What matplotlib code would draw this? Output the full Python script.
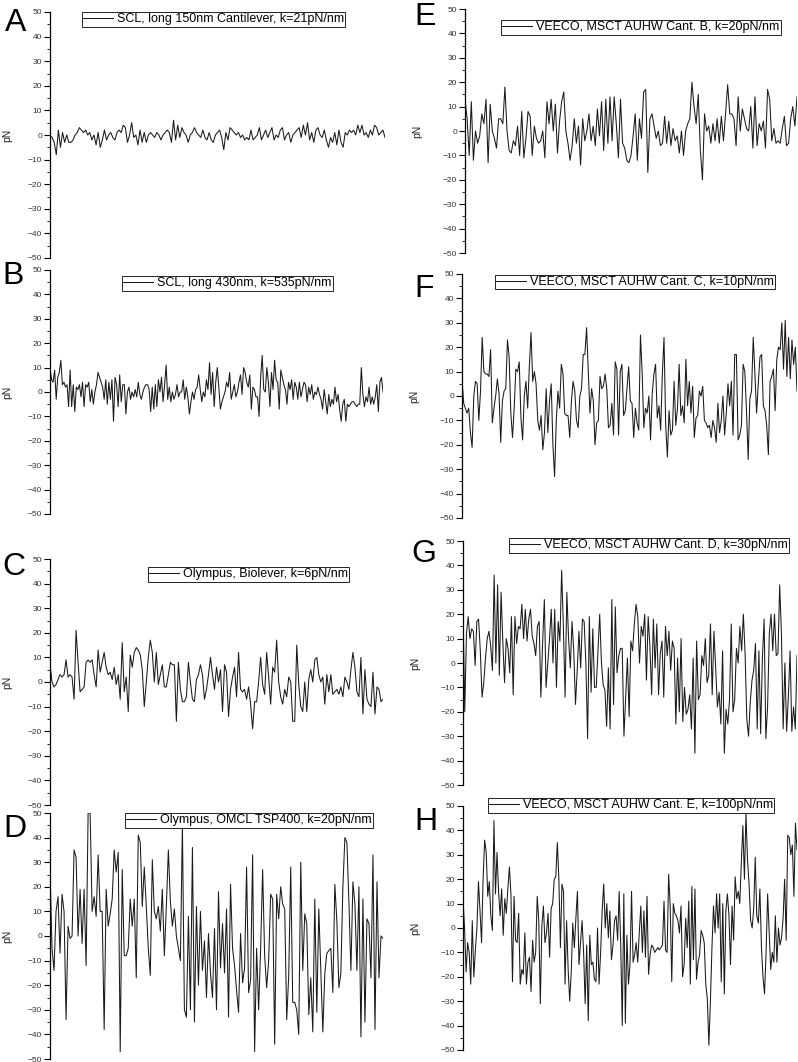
import numpy as np
import matplotlib
matplotlib.use('Agg')
import matplotlib.pyplot as plt
from matplotlib.ticker import MultipleLocator

plt.rcParams['font.family'] = ['Liberation Sans', 'DejaVu Sans']

# traces (pN)
a_vals = [0, -1, -3, -8, 2, -5, 1, -3, 0, -3, -3, -2, 0, 1, 3, 2, 1, 2, 0, 1, -2, 0, -4, 1, -5, -2, 2, -2,
          0, 1, -1, -2, 1, 2, 1, 4, 3, -3, 0, 5, -1, 0, -4, 2, -3, 1, -3, 0, 1, 0, -1, 1, 0, -2, 0, 1, 2, 1,
          -3, 6, -2, 4, -1, 3, 1, 0, -3, 0, 1, 3, 1, 0, -1, 2, -1, -2, 1, -2, -3, 0, 1, 2, -1, -6, 1, -2, 3,
          2, 1, 0, 1, -1, 0, -2, -1, -2, 2, -2, -1, 0, 3, -2, 0, 2, -1, 1, 3, -2, 0, -1, 2, 3, -2, 0, 1, -3,
          0, 1, 2, 3, -1, 4, 0, 5, -2, 1, -3, 2, 3, 0, -1, 2, -2, -5, -1, -3, 1, -4, 2, -3, -5, 1, 0, 2, 1,
          2, 0, 4, 1, 4, 0, 1, -1, 2, 0, 4, 3, 0, 1, 2, -1]
b_vals = [10, 5, 4, 9, -3, 6, 8, 13, 3, 4, 2, 3, -6, 9, -6, 3, -8, 2, 1, 3, -2, 4, -6, 3, 2, 4, -4, 1, -5, 0,
          3, 8, 6, 4, 2, -3, 5, -5, 4, -3, 5, -12, 6, 3, -6, 7, -4, 3, 3, -9, 0, 2, -3, 0, -2, 1, -2, 4, -1,
          -3, 0, 2, 3, 3, 1, -8, 2, -7, 3, -6, 5, 0, 6, -4, 3, 11, -3, 2, -4, 0, -3, -1, 3, -2, 0, 0, 5, -3,
          2, -2, -9, -4, 0, -3, 1, 2, 7, 1, -4, 0, -2, 5, 1, 12, -1, 8, -6, 4, 10, 2, -7, -4, -2, 0, 4, 2, 8,
          -3, 0, 3, -2, 0, 4, 7, -1, 10, 8, 4, 2, 7, -7, 2, 1, -2, -2, -10, 6, 15, 1, 0, 10, 4, -6, 8, 1, 13,
          5, 4, -7, 9, 6, 3, 1, -5, 4, 1, 5, -3, 4, 2, -3, 4, -2, 1, 4, 3, -4, 2, -1, 3, -3, 0, -1, 2, -1, -3,
          -7, 1, -4, -9, -1, -6, -3, -5, 2, -4, -1, -7, -12, -5, -3, -12, -5, -6, -5, -4, -4, -5, -6, -5, -5,
          10, -1, -6, -2, -4, 2, -5, -2, -5, -2, 3, -8, 4, 6, 0]
c_vals = [7, 0, -2, -1, 1, 3, 2, 3, 9, 2, 3, 2, -7, 21, 8, -4, -3, -2, 8, 9, 8, 9, 3, -2, 13, 4, 8, 12, 6, 3,
          4, 1, 6, -1, 3, -7, 16, -4, 2, -12, 11, 6, 12, 14, 13, 11, 5, -10, 0, 10, 17, 12, 0, 12, -1, 3, 7,
          -2, -2, 3, 8, 7, 7, -16, 8, -3, -8, -8, -6, 8, 0, -7, -8, 1, 3, 7, 3, -7, -3, 3, 10, 3, -3, 6, 0, 5,
          -12, 7, 4, -14, -3, 2, 6, -6, 12, -3, -4, -3, -7, -2, -9, -19, -8, -8, 0, 10, -1, -5, 12, 2, -9, 6,
          4, 17, 0, -6, -9, -3, -6, 2, 0, -16, -16, 15, -1, -10, -12, 0, -12, 1, 5, 0, 9, 10, 3, 0, 2, -9, 3,
          -4, 3, -5, -4, -3, -5, -2, -6, 2, 0, -3, 5, 12, 6, -4, -6, 10, -13, 5, -7, -9, -10, 4, -13, -2, -3,
          -8, -7]
d_vals = [27, -5, -14, 10, 16, -7, 17, 10, -34, 4, -1, 0, 35, 32, 0, 19, -3, 19, -12, 50, 50, 10, 16, 8, 33,
          10, 10, -38, 19, 4, 9, 15, 35, 26, 34, -47, 27, -8, -8, -5, 15, 4, 15, -17, 41, 38, 12, 28, 12, -5,
          -16, 31, 10, 7, 12, 2, 19, -8, 12, 35, 14, 4, 11, 0, -5, -10, 45, -30, -33, 8, -30, 36, -35, 12,
          -20, 10, -14, -2, -25, 1, -15, -25, 3, -30, 18, -13, 5, -15, 11, -33, 21, -5, -12, -22, -31, 1, -19,
          -13, 28, -23, -18, 33, -47, -5, -30, -5, 27, -8, -21, -10, 17, 15, -44, 17, 7, 20, 13, 11, -34, -16,
          28, -27, -27, -30, -40, 30, -14, 9, 5, -32, -17, -39, 15, -31, 11, -14, -39, -15, -7, -6, -5, -23,
          21, 6, -21, -15, 20, 40, 38, 14, -14, 22, 13, -14, 20, -41, 15, -35, 7, 5, -17, 33, -38, 22, -17, 0,
          -1]
e_vals = [13, 5, -10, 12, -12, 0, -5, -2, 7, 3, 13, -13, 11, 0, -3, -7, 5, 5, 3, 18, 0, -8, -9, -4, -6, 2,
          -10, 8, -11, -3, 8, 6, -10, 2, -3, -5, -4, 0, -11, 12, 3, 13, 0, 11, -9, 4, 12, 16, 0, -5, -12, -6,
          5, -5, 2, -14, 5, -4, 0, 7, -4, 2, -6, 9, -2, 12, -8, 13, -5, 14, -4, 14, 3, -11, 13, -5, -7, -12,
          -13, -10, -2, 7, -12, 5, -3, 16, 17, -17, 5, 7, 2, -3, 0, -6, -5, 6, -5, 4, -6, 1, -4, -2, -9, 0,
          -10, 0, 3, 5, 20, 10, 3, 15, -8, -20, 7, 0, 2, -5, 3, -4, 5, -5, 6, -4, 7, 19, 7, 7, 5, -6, 14, 0,
          9, 5, 1, 0, 10, -7, 14, -6, 3, 0, 4, -7, 17, 13, -4, 1, -5, -4, -5, 1, 6, -6, -5, 5, 10, 2, 14]
f_vals = [7, -3, -5, -7, -5, -15, -21, 0, 6, 5, -10, 2, 24, 10, 9, 9, 8, 19, -11, -5, 0, 7, 1, -19, -2, 2, 3,
          23, 16, -7, -17, -5, 11, 10, 14, -9, -18, 0, 6, -5, 12, 26, 6, 10, 5, -10, -14, -8, -22, -15, 3, -15,
          -2, 5, -20, -33, -10, 2, -5, 13, 9, -7, -8, -8, -17, -2, 6, 2, -10, -13, 0, 3, 17, 17, 28, 11, -7, 3,
          -2, -20, -11, -10, 8, 3, 4, 9, 3, -13, -12, -3, -16, 14, 11, -16, 10, 13, -8, -6, 3, 12, -2, -3,
          -17, -5, -11, -14, 25, 10, -13, -5, -7, 0, -18, 1, 9, 13, -9, -4, -14, 9, 24, -12, -25, -6, -16,
          -14, 6, -12, -5, 13, -8, -4, -11, 15, -4, 6, -7, 4, -17, -9, -8, 2, 0, 4, -10, -11, -13, -12, -17,
          -10, -13, -19, -3, -15, -10, 0, -16, -7, 5, -4, 6, -16, 17, 17, -18, -16, -12, 13, 10, -6, -26, -1,
          2, 24, 9, -7, 5, 16, 17, -4, -6, -12, -24, 6, 8, 11, -6, 15, 20, 19, 30, 11, 31, 8, 24, 7, 23, 13,
          20, 2]
g_vals = [22, -20, 12, 19, 10, 14, 13, -1, 17, 18, 5, -14, -8, 2, 10, 13, 7, -3, 36, 0, 32, -5, 29, 9, -8, 10,
          6, -4, 19, -13, 19, 8, 15, 14, 24, 10, 22, 9, 18, 22, 11, 8, 3, 15, 17, -14, 8, 26, -10, 0, 10, 22,
          0, 22, -10, 17, 9, 38, 15, -14, 29, 10, -2, 17, 5, -17, -3, 13, -2, 18, 17, 0, -31, 19, -12, 14,
          -10, -10, 5, 20, 0, -9, -11, -26, -2, -27, 26, -17, 23, -4, 3, 6, 6, -30, -14, 2, -22, 9, 5, 16, 24,
          19, 0, 15, 11, 20, -7, 19, 7, -13, 18, -2, 16, -13, 4, 9, -14, 15, 3, 13, -3, 9, 6, -25, 2, -20, 10,
          -24, -10, -21, -19, -13, -27, 2, -37, 9, -15, -13, 3, -1, 10, -8, -5, 16, -13, 13, -2, -18, -12, -25,
          5, -37, -19, -25, -15, 16, -20, -15, 6, 0, 15, 5, 20, 4, -23, -30, -16, -7, -3, 8, -27, 5, -29, 2,
          18, -31, -18, 12, 20, 5, 20, 3, 4, 32, 12, -27, 0, -28, -14, 5, -28, -18, -27, 3]
h_vals = [12, 0, -18, -6, -10, -23, 3, -20, -9, 0, 19, 7, -6, 20, 36, 31, 13, 19, 5, -1, 44, 14, 31, 15, 5, 16,
          -3, 12, 6, 16, 25, 14, -22, 13, -5, -6, 6, -23, -17, -19, -2, -23, -14, -12, -26, -5, -14, -10, 13,
          3, -31, 1, 9, -6, -2, 6, -12, 8, 10, 20, 21, 35, 20, -8, 18, 15, -23, 3, -17, -30, -18, 2, -8, 4, 15,
          -15, -6, 3, -10, -31, -7, -38, -3, -15, -14, -21, -22, 0, -23, -10, 7, 18, 0, 10, -4, 7, -13, -7, 3,
          5, -5, 15, -7, -40, 14, -39, -3, -23, -15, 15, -14, -11, -6, -14, -2, 9, -10, 7, -12, 13, -19, -11,
          -7, -8, -10, -9, -8, -9, -8, -7, 11, -9, -10, 22, 9, -22, 10, 6, 5, 3, -2, 9, -20, -15, 4, -8, 11,
          -23, 17, -13, 16, -21, -14, -11, -1, -3, -6, -23, -29, -48, -30, -8, 9, -2, 14, 0, 14, -22, 10, -27,
          7, 14, 5, -15, 9, -5, 21, 12, 15, 10, 27, 42, 20, 47, 28, 18, 3, 0, 8, 29, 5, 2, 16, -8, -20, -27,
          -10, 14, -2, -17, -10, -14, 5, -14, 0, -7, -4, 4, 20, -5, 38, 37, 30, 34, 13, 43, 32]

letters = ['A', 'B', 'C', 'D', 'E', 'F', 'G', 'H']
labels = ['SCL, long 150nm Cantilever, k=21pN/nm',
          'SCL, long 430nm, k=535pN/nm',
          'Olympus, Biolever, k=6pN/nm',
          'Olympus, OMCL TSP400, k=20pN/nm',
          'VEECO, MSCT AUHW Cant. B, k=20pN/nm',
          'VEECO, MSCT AUHW Cant. C, k=10pN/nm',
          'VEECO, MSCT AUHW Cant. D, k=30pN/nm',
          'VEECO, MSCT AUHW Cant. E, k=100pN/nm']
series = [a_vals, b_vals, c_vals, d_vals, e_vals, f_vals, g_vals, h_vals]

W, H = 798, 1062
# axes boxes in pixels: left, top, right, bottom
boxes = [(50, 12, 385, 258), (50, 270, 383, 514), (50, 559, 383, 805), (50, 813, 383, 1059),
         (465, 9, 797, 253), (462, 274, 797, 518), (463, 541, 797, 785), (463, 806, 797, 1050)]
# legend box top-left corners in pixels
leg_pos = [(82, 12), (122, 276), (148, 567), (125, 813),
           (501, 20), (495, 275), (509, 538), (488, 798)]
# panel letter baseline positions in pixels
let_pos = [(5, 31), (2, 284), (2, 575), (3, 837), (414, 25), (414, 297), (411, 562), (414, 830)]

fig = plt.figure(figsize=(W / 100, H / 100), dpi=100)

for i in range(8):
    l, t, r, b = boxes[i]
    ax = fig.add_axes([l / W, 1 - b / H, (r - l) / W, (b - t) / H])
    ax.patch.set_alpha(0)
    y = series[i]
    x = np.arange(len(y))
    ax.plot(x, y, color='#1a1a1a', linewidth=0.75, label=labels[i])
    ax.set_xlim(0, len(y) - 1)
    ax.set_ylim(-50, 50)
    for s in ['top', 'right', 'bottom']:
        ax.spines[s].set_visible(False)
    ax.spines['left'].set_linewidth(0.9)
    ax.set_xticks([])
    ax.yaxis.set_major_locator(MultipleLocator(10))
    ax.yaxis.set_minor_locator(MultipleLocator(5))
    ax.tick_params(axis='y', which='major', length=4, width=0.8, labelsize=6,
                   labelcolor='#333333', pad=1.8)
    ax.tick_params(axis='y', which='minor', length=2.2, width=0.6)
    ax.set_ylabel('pN', fontsize=7.5, color='#222222')
    off = 38 if l < 200 else 43
    ax.yaxis.set_label_coords(-off / (r - l), 0.5)

    lx, ly = leg_pos[i]
    leg = ax.legend(loc='upper left', bbox_to_anchor=(lx / W, 1 - ly / H),
                    bbox_transform=fig.transFigure, fontsize=9, frameon=True,
                    fancybox=False, framealpha=1, edgecolor='#222222',
                    borderaxespad=0, borderpad=0.1, handlelength=2.4,
                    handletextpad=0.3)
    leg.get_frame().set_linewidth(0.7)

    px, py = let_pos[i]
    fig.text(px / W, 1 - py / H, letters[i], fontsize=23, ha='left', va='baseline')

fig.savefig('out.png', dpi=100)
